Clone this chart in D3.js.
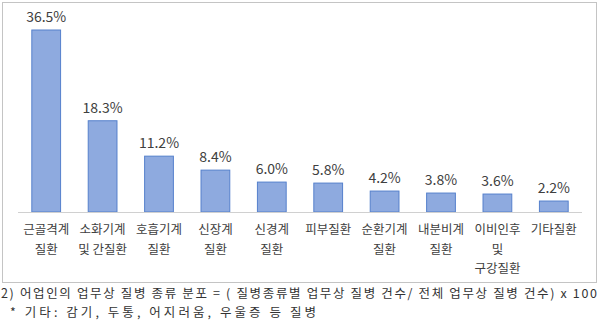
<!DOCTYPE html>
<html>
<head>
<meta charset="utf-8">
<script src="https://cdn.jsdelivr.net/npm/d3@7"></script>
<style>
  body { margin: 0; background: #fff; }
  svg { display: block; font-family: "Noto Sans CJK KR", "Noto Sans", sans-serif; }
</style>
</head>
<body>
<svg id="chart" width="600" height="326"></svg>
<script>
  var width = 600, height = 326

  // 업무상 질병 종류 분포 (%)
  var categories = ["근골격계 질환", "소화기계 및 간질환", "호흡기계 질환", "신장계 질환", "신경계 질환",
                    "피부질환", "순환기계 질환", "내분비계 질환", "이비인후 및 구강질환", "기타질환"]
  var labelLines = [["근골격계", "질환"], ["소화기계", "및 간질환"], ["호흡기계", "질환"], ["신장계", "질환"],
                    ["신경계", "질환"], ["피부질환"], ["순환기계", "질환"], ["내분비계", "질환"],
                    ["이비인후", "및", "구강질환"], ["기타질환"]]
  var values = [36.5, 18.3, 11.2, 8.4, 6.0, 5.8, 4.2, 3.8, 3.6, 2.2]
  var notes = ["2)  어업인의 업무상 질병 종류 분포 = ( 질병종류별 업무상 질병 건수/ 전체 업무상 질병 건수) x 100",
               "*  기타: 감기, 두통, 어지러움, 우울증 등 질병"]

  var svg = d3.select("#chart")

  // chart frame
  svg.append("rect")
    .attr("x", 2.5).attr("y", 2.5)
    .attr("width", 594).attr("height", 280)
    .attr("fill", "none")
    .attr("stroke", "#c4c4c4")

  var baseY = 212
  var x = d3.scaleBand()
    .domain(categories)
    .range([18, 582])
    .paddingInner(0.49)
    .paddingOuter(0.245)

  var y = d3.scaleLinear()
    .domain([0, 36.5])
    .range([baseY, 30])

  var g = svg.append("g")

  g.selectAll("rect.bar")
    .data(values)
    .enter()
    .append("rect")
    .attr("class", "bar")
    .attr("x", function(d, i) { return x(categories[i]) })
    .attr("y", function(d) { return y(d) })
    .attr("width", x.bandwidth())
    .attr("height", function(d) { return baseY - y(d) })
    .attr("fill", "#8eaadf")
    .attr("stroke", "#5580cc")
    .attr("stroke-width", 1)

  // baseline
  svg.append("line")
    .attr("x1", 18).attr("x2", 582)
    .attr("y1", baseY + 0.5).attr("y2", baseY + 0.5)
    .attr("stroke", "#d0d0d0")

  // value labels
  g.selectAll("text.val")
    .data(values)
    .enter()
    .append("text")
    .attr("class", "val")
    .attr("x", function(d, i) { return x(categories[i]) + x.bandwidth() / 2 })
    .attr("y", function(d) { return y(d) - 8 })
    .attr("text-anchor", "middle")
    .attr("font-size", "14px")
    .attr("fill", "#404040")
    .text(function(d) { return d.toFixed(1) + "%" })

  // category labels
  var cat = g.selectAll("text.cat")
    .data(labelLines)
    .enter()
    .append("text")
    .attr("class", "cat")
    .attr("text-anchor", "middle")
    .attr("font-size", "12.5px")
    .attr("fill", "#404040")
    .attr("transform", function(d, i) {
      return "translate(" + (x(categories[i]) + x.bandwidth() / 2) + ",234)"
    })

  cat.selectAll("tspan")
    .data(function(d) { return d })
    .enter()
    .append("tspan")
    .attr("x", 0)
    .attr("y", function(d, j) { return j * 19.5 })
    .text(function(d) { return d })

  // footnotes, stretched like the original
  var noteX = [1, 10]
  var noteLen = [596, 306]
  svg.selectAll("text.note")
    .data(notes)
    .enter()
    .append("text")
    .attr("class", "note")
    .attr("x", function(d, i) { return noteX[i] })
    .attr("y", function(d, i) { return 298 + i * 18.5 })
    .attr("font-size", "12.5px")
    .attr("fill", "#333")
    .attr("textLength", function(d, i) { return noteLen[i] })
    .attr("lengthAdjust", "spacing")
    .text(function(d) { return d })
</script>
</body>
</html>
